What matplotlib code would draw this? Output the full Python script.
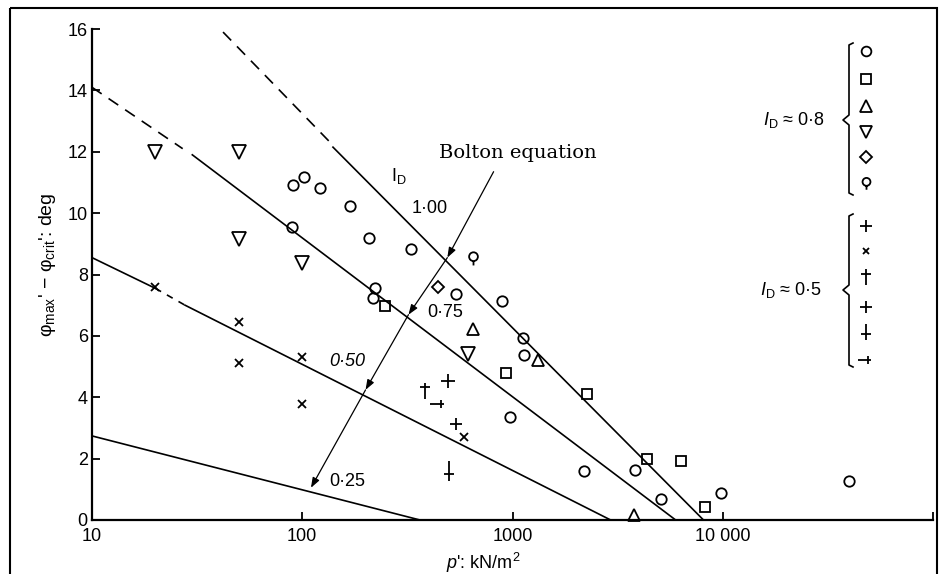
import matplotlib.pyplot as plt
import matplotlib.transforms as mtransforms
from matplotlib.path import Path
from matplotlib.patches import Rectangle
from matplotlib.ticker import NullLocator

plt.rcParams['font.family'] = ['Liberation Sans', 'DejaVu Sans']
plt.rcParams['mathtext.fontset'] = 'custom'
plt.rcParams['mathtext.rm'] = 'Liberation Sans'
plt.rcParams['mathtext.it'] = 'Liberation Sans:italic'

# Bolton lines, (p' kN/m2, phi_max - phi_crit deg) end points per I_D
line_100_dash_p = [42, 136]
line_100_dash_y = [15.9, 12.3]
line_100_p = [140, 8100]
line_100_y = [12.15, 0.0]

line_075_dash_p = [10, 27]
line_075_dash_y = [14.1, 12.1]
line_075_p = [30, 5970]
line_075_y = [11.9, 0.0]

line_050_p = [10, 20]
line_050_y = [8.55, 7.55]
line_050_dash_p = [20, 27.7]
line_050_dash_y = [7.55, 7.0]
line_050b_p = [27.7, 2930]
line_050b_y = [7.0, 0.0]

line_025_p = [10, 363]
line_025_y = [2.74, 0.0]

# "Bolton equation" pointer crossing the lines
bolton_p = [813, 490, 320, 200, 110]
bolton_y = [11.35, 8.55, 6.69, 4.24, 1.05]

# test results, I_D ~ 0.8
circle_p = [90.6, 102, 122, 168, 89.6, 208, 330, 223, 218, 541, 896,
            1117, 1140, 968, 2178, 3810, 5070, 9770, 39800]
circle_y = [10.93, 11.19, 10.83, 10.24, 9.56, 9.2, 8.84, 7.57, 7.25, 7.37,
            7.14, 5.94, 5.38, 3.36, 1.6, 1.63, 0.69, 0.87, 1.27]
square_p = [248, 936, 2250, 4345, 6310, 8200]
square_y = [6.98, 4.8, 4.11, 1.99, 1.92, 0.42]
tri_up_p = [652, 1315, 3770]
tri_up_y = [6.23, 5.22, 0.15]
tri_down_p = [20, 50, 50, 100, 611]
tri_down_y = [12.0, 12.0, 9.17, 8.38, 5.42]
diamond_p = [440]
diamond_y = [7.6]
stem_p = [652]
stem_y = [8.55]

# test results, I_D ~ 0.5
cross_p = [20, 50, 50, 100, 100, 585]
cross_y = [7.6, 6.46, 5.12, 5.32, 3.78, 2.71]
plus_p = [495]
plus_y = [4.53]
dagger_p = [385]
dagger_y = [4.2]
plus_long_p = [536]
plus_long_y = [3.13]
plus_low_p = [501]
plus_low_y = [1.6]
plus_arrow_p = [440]
plus_arrow_y = [3.78]

MV, LN = Path.MOVETO, Path.LINETO
stem_marker = Path.make_compound_path(
    Path.circle((0, 0.25), 0.6),
    Path([(0, -0.35), (0, -0.95)], [MV, LN]))
dagger_marker = Path([(0, -1), (0, 1), (-0.6, 0.45), (0.6, 0.45)], [MV, LN, MV, LN])
long_marker = Path([(-1, 0), (0.6, 0), (0.05, -0.55), (0.05, 0.55)], [MV, LN, MV, LN])
low_marker = Path([(0, -0.9), (0, 0.9), (-0.5, -0.25), (0.5, -0.25)], [MV, LN, MV, LN])
arrow_marker = Path([(-1, 0), (0.7, 0), (0.3, -0.5), (0.3, 0.5)], [MV, LN, MV, LN])

fig = plt.figure(figsize=(9.41, 5.74), dpi=100)
ax = fig.add_axes([92 / 941, 1 - 520 / 574, 841 / 941, 491 / 574])
ax.set_xscale('log')
ax.set_xlim(10, 1e5)
ax.set_ylim(0, 16)

lw = 1.2
ax.plot(line_100_dash_p, line_100_dash_y, 'k', lw=lw, dashes=[7, 5])
ax.plot(line_100_p, line_100_y, 'k', lw=lw)
ax.plot(line_075_dash_p, line_075_dash_y, 'k', lw=lw, dashes=[7, 5])
ax.plot(line_075_p, line_075_y, 'k', lw=lw)
ax.plot(line_050_p, line_050_y, 'k', lw=lw)
ax.plot(line_050_dash_p, line_050_dash_y, 'k', lw=lw, dashes=[4, 4])
ax.plot(line_050b_p, line_050b_y, 'k', lw=lw)
ax.plot(line_025_p, line_025_y, 'k', lw=lw)

for i in range(len(bolton_p) - 1):
    ax.annotate('', xy=(bolton_p[i + 1], bolton_y[i + 1]),
                xytext=(bolton_p[i], bolton_y[i]),
                arrowprops=dict(arrowstyle='-|>,head_length=0.6,head_width=0.22',
                                lw=0.9, color='k', shrinkA=0, shrinkB=0))

mk = dict(ls='none', mfc='none', mec='k', mew=1.3, clip_on=False)
ax.plot(circle_p, circle_y, marker='o', ms=7.5, **mk)
ax.plot(square_p, square_y, marker='s', ms=7, **mk)
ax.plot(tri_up_p, tri_up_y, marker='^', ms=9, **mk)
ax.plot(tri_down_p, tri_down_y, marker='v', ms=10, **mk)
ax.plot(diamond_p, diamond_y, marker='D', ms=6, **mk)
ax.plot(stem_p, stem_y, marker=stem_marker, ms=10, **mk)
ax.plot(cross_p, cross_y, marker='x', ms=5.5, **mk)
ax.plot(plus_p, plus_y, marker='+', ms=10, **mk)
ax.plot(dagger_p, dagger_y, marker=dagger_marker, ms=12, **mk)
ax.plot(plus_long_p, plus_long_y, marker='+', ms=9, **mk)
ax.plot(plus_low_p, plus_low_y, marker=low_marker, ms=14, **mk)
ax.plot(plus_arrow_p, plus_arrow_y, marker=arrow_marker, ms=12, **mk)

# curve labels
ax.text(287, 11.22, r'$\mathregular{I}_{\rm D}$', fontsize=13, ha='center', va='center')
ax.text(403, 10.15, '1·00', fontsize=13, ha='center', va='center')
ax.text(480, 6.75, '0·75', fontsize=13, ha='center', va='center')
ax.text(164, 5.15, '0·50', fontsize=13, ha='center', va='center', style='italic')
ax.text(164, 1.27, '0·25', fontsize=13, ha='center', va='center')
ax.text(1057, 11.97, 'Bolton equation', fontsize=14, ha='center', va='center',
        family='DejaVu Serif')

# axes styling
for side in ('top', 'right'):
    ax.spines[side].set_visible(False)
ax.spines['left'].set_linewidth(1.6)
ax.spines['bottom'].set_linewidth(1.6)
ax.set_yticks(range(0, 17, 2))
ax.set_xticks([10, 100, 1000, 10000, 100000])
ax.set_xticklabels(['10', '100', '1000', '10 000', ''])
ax.xaxis.set_minor_locator(NullLocator())
ax.tick_params(direction='in', length=6, width=1.3, labelsize=13)
ax.tick_params(axis='x', pad=6)
ax.tick_params(axis='y', pad=3)
ax.text(-0.0535, 0.52, r"φ$_{\rm max}$' − φ$_{\rm crit}$': deg", transform=ax.transAxes,
        rotation=90, ha='center', va='center', fontsize=14)
ax.text(0.465, -0.088, r"$\it{p}$': kN/m$^2$", transform=ax.transAxes,
        ha='center', va='center', fontsize=13)

# symbol key with braces, placed in pixel units
px = mtransforms.Affine2D().scale(1 / 941, -1 / 574).translate(0, 1) + fig.transFigure


def brace(x, top, mid, bottom):
    xs = [x + 4, x, x, x - 6, x, x, x + 4]
    ys = [top, top + 2, mid - 5, mid, mid + 5, bottom - 2, bottom]
    fig.add_artist(plt.Line2D(xs, ys, color='k', lw=1.2, transform=px))


brace(849, 43, 120, 195)
brace(849, 214, 290, 367)
key_x = 866
key8 = [('o', 7, 51), ('s', 6.5, 79), ('^', 8, 106), ('v', 8.5, 132),
        ('D', 6, 157), (stem_marker, 9, 183)]
key5 = [('+', 8, 226), ('x', 4.5, 251), (dagger_marker, 11, 277),
        ('+', 8, 307), (low_marker, 12, 332), (arrow_marker, 11, 360)]
for m, s, yy in key8 + key5:
    fig.add_artist(plt.Line2D([key_x], [yy], marker=m, ms=s, mfc='none', mec='k',
                              mew=1.3, transform=px))
fig.text(825, 120, r'$\it{I}_{\rm D}$ ≈ 0·8', transform=px, fontsize=13,
         ha='right', va='center')
fig.text(822, 290, r'$\it{I}_{\rm D}$ ≈ 0·5', transform=px, fontsize=13,
         ha='right', va='center')

fig.add_artist(Rectangle((10, 8), 927, 580, fill=False, lw=1.5, ec='k', transform=px))

fig.savefig('out.png', dpi=100)
